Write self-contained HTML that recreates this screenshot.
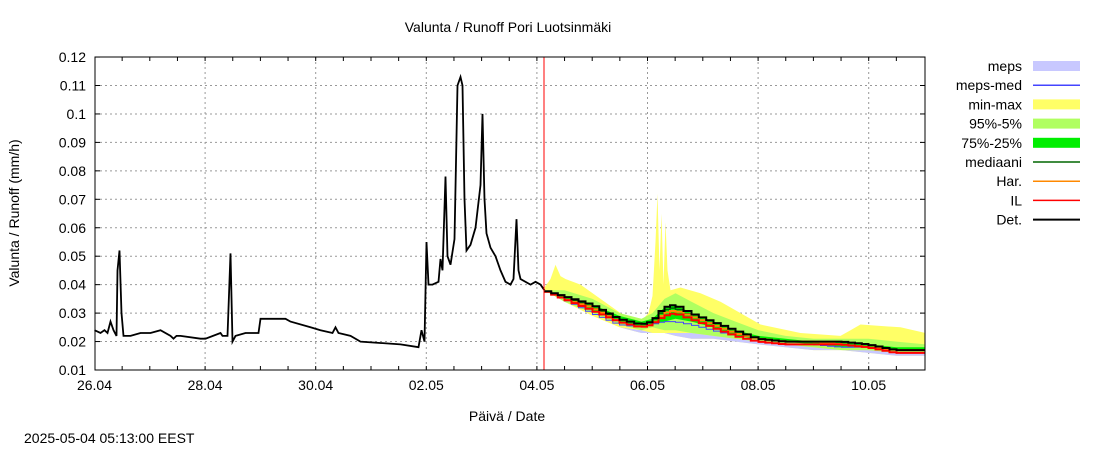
<!DOCTYPE html>
<html><head><meta charset="utf-8"><style>
body{margin:0;background:#fff}
svg text{font-family:"Liberation Sans",sans-serif;font-size:14px;fill:#000}
</style></head><body>
<svg id="c" width="1100" height="450" xmlns="http://www.w3.org/2000/svg"></svg>
<script>
// ---- data ----
const xTicks=["26.04","28.04","30.04","02.05","04.05","06.05","08.05","10.05"];
const yTicks=[0.01,0.02,0.03,0.04,0.05,0.06,0.07,0.08,0.09,0.1,0.11,0.12];
const obsPx=[94,100,104,107,110,113,116,117,119,121,123,130,140,150,160,170,173,176,180,200,205,220,222,227,230,232,235,245,258,260,285,290,310,320,332,335,338,350,360,400,418,421,424,426,428,432,438,440,442,445,447,450,454,457,460,462,464,466,470,475,480,482,484,486,490,495,500,505,510,513,516,518,520,530,535,540,544];
const obsDays=obsPx.map(p=>(p-94)/55.3);
const obsVals=[0.024,0.023,0.024,0.023,0.027,0.024,0.022,0.045,0.052,0.03,0.022,0.022,0.023,0.023,0.024,0.022,0.021,0.022,0.022,0.021,0.021,0.023,0.022,0.022,0.051,0.02,0.022,0.023,0.023,0.028,0.028,0.027,0.025,0.024,0.023,0.025,0.023,0.022,0.02,0.019,0.018,0.024,0.02,0.055,0.04,0.04,0.041,0.049,0.045,0.078,0.05,0.047,0.056,0.11,0.113,0.11,0.07,0.052,0.054,0.06,0.075,0.1,0.07,0.058,0.053,0.05,0.045,0.041,0.04,0.042,0.063,0.045,0.042,0.04,0.041,0.04,0.038];
const fPx=[544,564,592,619,641,652,664,675,691,713,735,758,785,813,841,868,896,925];
const fDays=fPx.map(p=>(p-94)/55.3);
const det=[.038,.036,.033,.028,.026,.027,.032,.033,.030,.027,.024,.021,.020,.020,.020,.019,.017,.017];
const il=[.038,.035,.031,.027,.025,.026,.029,.030,.028,.025,.022,.020,.019,.019,.019,.018,.016,.016];
const har=[.038,.035,.032,.027,.025,.026,.030,.031,.029,.026,.023,.021,.020,.020,.019,.018,.017,.017];
const median=[.038,.036,.032,.028,.026,.027,.031,.032,.029,.026,.023,.021,.020,.020,.019,.018,.017,.017];
const p75=[.038,.036,.033,.029,.027,.028,.032,.033,.030,.027,.024,.022,.021,.020,.020,.019,.018,.018];
const p25=[.038,.035,.031,.027,.025,.026,.027,.028,.027,.025,.022,.021,.020,.019,.018,.018,.017,.017];
const p95=[.038,.038,.035,.030,.028,.030,.035,.037,.034,.030,.027,.024,.022,.021,.021,.021,.020,.019];
const p5=[.038,.034,.030,.026,.024,.025,.024,.024,.023,.022,.021,.020,.019,.018,.017,.017,.016,.016];
const minV=[.038,.034,.029,.025,.023,.023,.023,.022,.021,.021,.020,.019,.018,.017,.017,.016,.015,.015];
const mepsLo=[.038,.034,.029,.025,.024,.023,.023,.023,.023,.022,.021,.020,.019,.018,.017,.017,.016,.016];
const mepsMed=[.038,.035,.030,.026,.025,.026,.027,.027,.026,.024,.022,.020,.019,.019,.018,.018,.017,.017];
const maxPx=[544,550,555,560,565,580,600,620,640,648,652,655,657,659,661,663,665,667,670,680,700,720,740,760,800,840,850,860,900,925];
const maxDays=maxPx.map(p=>(p-94)/55.3);
const maxV=[.039,.042,.047,.043,.042,.040,.035,.030,.027,.030,.036,.055,.072,.045,.065,.040,.062,.045,.038,.039,.037,.034,.030,.026,.023,.022,.024,.026,.025,.023];
// ---- scales ----
const X=d=>94.5+d*55.3, Y=v=>370-(v-0.01)/0.01*28.45;
const svg=document.getElementById('c');const NS='http://www.w3.org/2000/svg';
function mk(t,a,name){const e=document.createElementNS(NS,t);for(const k in a)e.setAttribute(k,a[k]);


svg.appendChild(e);return e;}
function txt(s,x,y,anchor,name,extra){const e=mk('text',Object.assign({x:x,y:y,'text-anchor':anchor},extra||{}),name);e.textContent=s;return e;}
function pts(ds,vs){return ds.map((d,i)=>X(d).toFixed(1)+','+Y(vs[i]).toFixed(1)).join(' ');}
// stepped line: sub-steps every ~6px along linear interpolation, quantised
function stepPts(ds,vs){const out=[];for(let i=0;i<ds.length-1;i++){const x0=X(ds[i]),x1=X(ds[i+1]);const n=Math.max(1,Math.round((x1-x0)/7));
for(let k=0;k<n;k++){const xa=x0+(x1-x0)*k/n,xb=x0+(x1-x0)*(k+1)/n;const v=vs[i]+(vs[i+1]-vs[i])*(k+0.5)/n;const y=Y(v);out.push(xa.toFixed(1)+','+y.toFixed(1),xb.toFixed(1)+','+y.toFixed(1));}}
return out.join(' ');}
function band(ds,lo,hi,c,name){const a=ds.map((d,i)=>X(d).toFixed(1)+','+Y(hi[i]).toFixed(1));
const b=ds.map((d,i)=>X(d).toFixed(1)+','+Y(lo[i]).toFixed(1)).reverse();mk('polygon',{points:a.concat(b).join(' '),fill:c},name);}
// grid
yTicks.forEach((v,i)=>{if(i>0&&i<yTicks.length-1)mk('line',{x1:95,x2:925,y1:Y(v),y2:Y(v),stroke:'#999','stroke-dasharray':'2,3'},'y-grid');
mk('line',{x1:95,x2:100,y1:Y(v),y2:Y(v),stroke:'#000'},'y-tick');mk('line',{x1:920,x2:925,y1:Y(v),y2:Y(v),stroke:'#000'},'y-tick');
txt(String(v),86,Y(v)+5,'end','y-tick-label');});
for(let h=1;h<30;h++){const x=X(h/2);if(x>925)break;
 if(h%4==0){mk('line',{x1:x,x2:x,y1:57,y2:370,stroke:'#999','stroke-dasharray':'2,3'},'x-grid');}
 mk('line',{x1:x,x2:x,y1:370,y2:366,stroke:'#000'},'x-tick');mk('line',{x1:x,x2:x,y1:57,y2:61,stroke:'#000'},'x-tick');}
xTicks.forEach((s,i)=>txt(s,X(i*2),390,'middle','x-tick-label'));
// bands
(function(){const a=maxDays.map((d,i)=>X(d).toFixed(1)+','+Y(maxV[i]).toFixed(1));const b=fDays.map((d,i)=>X(d).toFixed(1)+','+Y(minV[i]).toFixed(1)).reverse();
mk('polygon',{points:a.concat(b).join(' '),fill:'#ffff66'},'min-max-band');})();
band(fDays,minV,mepsLo,'#c8c8ff','meps-band');
band(fDays,p5,p95,'#b0ff60','p95-p5-band');
band(fDays,p25,p75,'#00ee00','p75-p25-band');
mk('polyline',{points:stepPts(fDays,mepsMed),fill:'none',stroke:'#4444ff','stroke-width':1},'meps-med-line');
mk('polyline',{points:stepPts(fDays,median),fill:'none',stroke:'#006600','stroke-width':1.5},'median-line');
mk('polyline',{points:stepPts(fDays,har),fill:'none',stroke:'#ff8800','stroke-width':2},'har-line');
mk('polyline',{points:stepPts(fDays,il),fill:'none',stroke:'#ff0000','stroke-width':2},'il-line');
mk('polyline',{points:stepPts(fDays,det),fill:'none',stroke:'#000','stroke-width':2},'det-line');
mk('polyline',{points:pts(obsDays,obsVals),fill:'none',stroke:'#000','stroke-width':1.8},'observed-line');
mk('line',{x1:544,x2:544,y1:57,y2:370,stroke:'#ff0000'},'forecast-start-line');
mk('rect',{x:95,y:57,width:830,height:313,fill:'none',stroke:'#000'},'plot-frame');
txt('Valunta / Runoff  Pori Luotsinmäki',508,32,'middle','chart-title',{'xml:space':'preserve'});
txt('Päivä / Date',507,421,'middle','x-axis-title');
txt('Valunta / Runoff (mm/h)',19,213,'middle','y-axis-title',{transform:'rotate(-90 19 213)'});
txt('2025-05-04 05:13:00 EEST',24,443,'start','timestamp');
const legNames=["meps","meps-med","min-max","95%-5%","75%-25%","mediaani","Har.","IL","Det."];
const legCol=["#c8c8ff","#4444ff","#ffff66","#b0ff60","#00ee00","#006600","#ff8800","#ff0000","#000"];
const legBox=[1,0,1,1,1,0,0,0,0];
legNames.forEach((n,i)=>{const y=66+i*19.2;txt(n,1022,y+5,'end','legend-label');
 if(legBox[i])mk('rect',{x:1033,y:y-5,width:47,height:10,fill:legCol[i]},'legend-swatch');
 else mk('line',{x1:1033,x2:1080,y1:y,y2:y,stroke:legCol[i],'stroke-width':i==8?2:1.5},'legend-swatch');});
</script>
</body></html>
